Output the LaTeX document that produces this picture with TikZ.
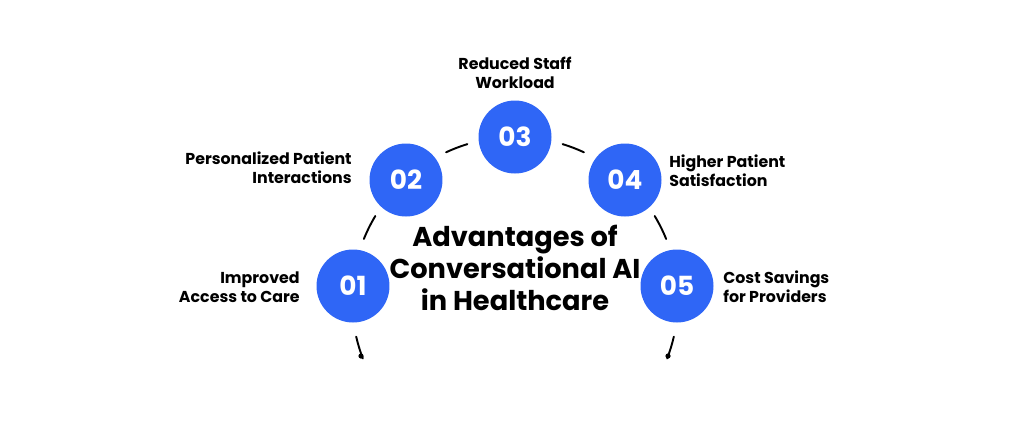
\documentclass[tikz,border=0pt]{standalone}
\usepackage{fontspec}
\setmainfont{Poppins}
\definecolor{stepblue}{HTML}{2F66F6}
\tikzset{
  stepdot/.style={circle, fill=stepblue, minimum size=1.46cm, inner sep=0pt,
    text=white, font=\fontsize{15}{15}\selectfont\bfseries},
  lbl/.style={font=\fontsize{9}{11}\selectfont\bfseries, inner sep=0pt},
  arcseg/.style={line width=1.1pt, line cap=round}
}
\begin{document}
\begin{tikzpicture}[x=0.02cm, y=-0.02cm]
    \useasboundingbox (0,0) rectangle (1024,424);
    % Centre of the arc
    \coordinate (mid) at (515,300);

    % Arc pieces between the steps
    \foreach \a/\b in {193/201, 149/158, 107/115, 65/73, 22/31, -21/-13}
        \draw[arcseg] (mid) ++(-\a:163) arc[start angle=-\a, end angle=-\b, radius=163];
    \fill (361,356) circle (2.6);
    \fill (668,356) circle (2.6);

    % Steps
    \node[stepdot] (s1) at (353,286) {01};
    \node[stepdot] (s2) at (406,180) {02};
    \node[stepdot] (s3) at (515,137) {03};
    \node[stepdot] (s4) at (625,180) {04};
    \node[stepdot] (s5) at (677,286) {05};

    % Labels
    \node[lbl, align=right, anchor=east] (l1) at (300,287) {Improved\\Access to Care};
    \node[lbl, align=right, anchor=east] (l2) at (352,168) {Personalized Patient\\Interactions};
    \node[lbl, align=center] (l3) at (515,73) {Reduced Staff\\Workload};
    \node[lbl, align=left, anchor=west] (l4) at (669,171) {Higher Patient\\Satisfaction};
    \node[lbl, align=left, anchor=west] (l5) at (723,287) {Cost Savings\\for Providers};

    % Title
    \node[align=center, font=\fontsize{15.5}{18}\selectfont\bfseries] (title) at (515,268)
        {Advantages of\\Conversational AI\\in Healthcare};
\end{tikzpicture}
\end{document}
